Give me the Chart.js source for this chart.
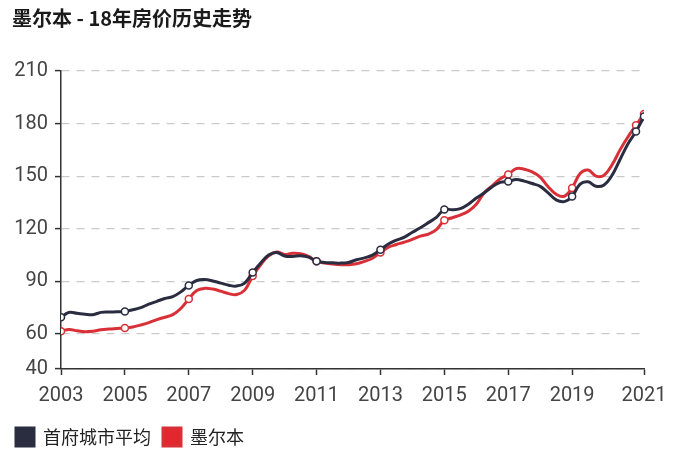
<!DOCTYPE html>
<html>
<head>
<meta charset="utf-8">
<script src="https://cdn.jsdelivr.net/npm/chart.js@4/dist/chart.umd.min.js"></script>
<style>
  html, body { margin: 0; padding: 0; background: #fff; }
  #wrap { width: 684px; height: 453px; }
</style>
</head>
<body>
<div id="wrap"><canvas id="myChart"></canvas></div>
<script>
// quarterly index values, 2003 Q1 .. 2021 Q2
const startYear = 2003;
const capitalAvg = [
    69.5, 72.3, 71.8, 71.2, 71.0, 72.3, 72.5, 72.6,
    72.8, 73.8, 75.0, 77.0, 78.6, 80.2, 81.3, 84.0,
    87.7, 90.5, 91.0, 90.2, 89.0, 87.8, 87.3, 89.0,
    95.0, 100.5, 105.0, 106.5, 104.5, 104.2, 104.6, 103.8,
    101.5, 100.8, 100.6, 100.4, 100.8, 102.3, 103.4, 105.0,
    108.0, 111.3, 113.5, 115.2, 118.0, 120.6, 123.5, 126.5,
    131.0, 130.8, 131.5, 134.0, 137.5, 140.5, 144.0, 146.5,
    147.0, 148.1, 147.2, 145.8, 144.2, 140.5, 136.5, 135.5,
    138.4, 145.5, 146.8, 144.2, 145.0, 150.5, 159.5, 168.5,
    175.5, 184.0
];
const melbourne = [
    61.5, 62.6, 61.8, 61.3, 61.6, 62.4, 62.8, 63.1,
    63.4, 64.0, 65.1, 66.5, 68.2, 69.5, 71.0, 74.5,
    80.0, 84.8, 86.0, 85.6, 84.4, 83.0, 82.5, 85.0,
    93.0, 99.5, 104.5, 106.8, 105.3, 106.0, 105.8, 104.2,
    101.5, 100.4, 99.9, 99.5, 99.5, 100.0, 101.4, 103.2,
    106.5, 109.5, 111.0, 112.4, 114.0, 115.8, 117.0, 119.5,
    124.8, 126.3, 127.8, 130.0, 134.0, 140.5, 144.5, 148.5,
    151.0, 154.3, 154.0, 152.5, 149.5, 144.0, 139.7, 138.5,
    143.3, 151.5, 153.5, 150.0, 150.5, 156.5, 165.0, 172.5,
    179.0, 185.5
];
const markerYears = [2003, 2005, 2007, 2009, 2011, 2013, 2015, 2017, 2019, 2021, 2021.25];
const xTickValues = [2003, 2005, 2007, 2009, 2011, 2013, 2015, 2017, 2019, 2021.25];
const xTickLabels = ['2003', '2005', '2007', '2009', '2011', '2013', '2015', '2017', '2019', '2021'];
const yTickValues = [40, 60, 90, 120, 150, 180, 210];
const seriesNames = ['首府城市平均', '墨尔本'];

const toPoints = (arr) => arr.map((v, i) => ({ x: startYear + i / 4, y: v }));
const markerRadius = (ctx) => markerYears.includes(ctx.raw && ctx.raw.x) ? 3.5 : 0;

const font = "Roboto, 'Noto Sans CJK SC', sans-serif";
const cjk = "'Noto Sans CJK SC', sans-serif";
const ctx = document.getElementById('myChart').getContext('2d');

// nudge the title a bit to the right of the legend
const titleShift = {
    id: 'titleShift',
    afterLayout: (chart) => {
        chart.titleBlock.left += 8;
    }
};

const myChart = new Chart(ctx, {
    type: 'line',
    data: {
        datasets: [{
            label: seriesNames[0],
            data: toPoints(capitalAvg),
            borderColor: '#2a2c40',
            backgroundColor: '#2a2c40',
            borderWidth: 3,
            pointRadius: markerRadius,
            pointBackgroundColor: '#ffffff',
            pointBorderColor: '#2a2c40',
            pointBorderWidth: 1.5,
            tension: 0.4
        },
        {
            label: seriesNames[1],
            data: toPoints(melbourne),
            borderColor: '#d92f37',
            backgroundColor: '#e2282e',
            borderWidth: 3,
            pointRadius: markerRadius,
            pointBackgroundColor: '#ffffff',
            pointBorderColor: '#d92f37',
            pointBorderWidth: 1.5,
            tension: 0.4
        }]
    },
    plugins: [titleShift],
    options: {
        responsive: true,
        maintainAspectRatio: false,
        animation: false,
        layout: {
            padding: { left: 4, right: 40, top: 0, bottom: -3 }
        },
        plugins: {
            title: {
                display: true,
                text: '墨尔本 - 18年房价历史走势',
                align: 'start',
                color: '#1a1a1a',
                font: { family: cjk, size: 20, weight: 'bold' },
                padding: { top: 6, bottom: 41 }
            },
            legend: {
                position: 'bottom',
                align: 'start',
                labels: {
                    boxWidth: 18,
                    boxHeight: 18,
                    color: '#222',
                    font: { family: cjk, size: 18 },
                    padding: 12
                }
            },
            tooltip: { enabled: false }
        },
        scales: {
            x: {
                type: 'linear',
                min: 2003,
                max: 2021.25,
                afterBuildTicks: (axis) => {
                    axis.ticks = xTickValues.map(v => ({ value: v }));
                },
                afterFit: (axis) => {
                    axis.height -= 1;
                },
                ticks: {
                    color: '#444',
                    font: { family: font, size: 20 },
                    padding: 9,
                    maxRotation: 0,
                    autoSkip: false,
                    callback: (v, i) => xTickLabels[i]
                },
                grid: {
                    drawOnChartArea: false,
                    drawTicks: true,
                    tickLength: 6,
                    tickColor: '#333',
                    tickWidth: 1.5
                },
                border: { color: '#333', width: 1.5 }
            },
            y: {
                min: 40,
                max: 210,
                afterBuildTicks: (axis) => {
                    axis.ticks = yTickValues.map(v => ({ value: v }));
                },
                afterFit: (axis) => {
                    axis.width = 57;
                },
                ticks: {
                    color: '#444',
                    font: { family: font, size: 20 },
                    padding: 7
                },
                grid: {
                    color: '#cacaca',
                    lineWidth: 1.2,
                    tickLength: 6,
                    tickColor: '#333',
                    tickWidth: 1.5,
                    tickBorderDash: []
                },
                border: { color: '#333', width: 1.5, dash: [8, 7] }
            }
        }
    }
});
</script>
</body>
</html>
